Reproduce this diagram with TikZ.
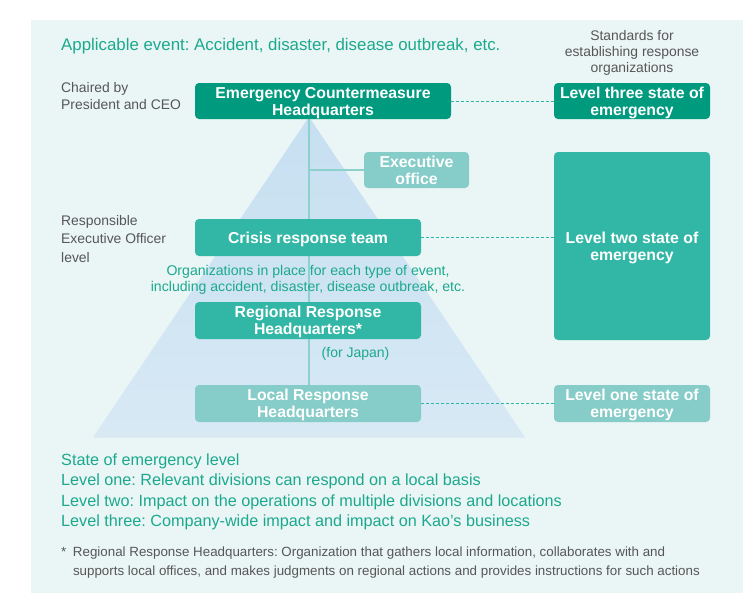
\documentclass[tikz,border=0pt]{standalone}
\usepackage{fontspec}
\setmainfont{Liberation Sans}
\usetikzlibrary{calc}
\definecolor{panelbg}{HTML}{EAF5F5}
\definecolor{darkgreen}{HTML}{009B7F}
\definecolor{teal}{HTML}{32B7A6}
\definecolor{lightteal}{HTML}{86CCC8}
\definecolor{tritop}{HTML}{C6DFF2}
\definecolor{tribot}{HTML}{D8E9F4}
\definecolor{greentext}{HTML}{1BA98E}
\definecolor{greytext}{HTML}{575757}
\definecolor{vline}{HTML}{8ED1CC}
\definecolor{dashcol}{HTML}{2DB5A5}
\pgfdeclarelayer{back}
\pgfdeclarelayer{lines}
\pgfsetlayers{back,lines,main}
\tikzset{
  box/.style={rectangle, rounded corners=4pt, text=white, align=center,
    font=\fontsize{15.8}{17}\selectfont\bfseries, inner sep=0pt, text depth=0pt},
  boxdark/.style={box, fill=darkgreen},
  boxmid/.style={box, fill=teal},
  boxlight/.style={box, fill=lightteal},
  greylabel/.style={text=greytext, font=\fontsize{13.9}{17}\selectfont, align=left, inner sep=0pt},
  conn/.style={draw=vline, line width=1.5pt},
  dashconn/.style={draw=dashcol, line width=1pt, dash pattern=on 3pt off 2pt},
}
\begin{document}
\frenchspacing
\begin{tikzpicture}[x=1pt, y=-1pt]
\useasboundingbox (0,0) rectangle (743,594);
\begin{pgfonlayer}{back}
  \fill[panelbg] (31,20) rectangle (743,593);
  \shade[top color=tritop, bottom color=tribot] (309,117) -- (525,437.5) -- (93,437.5) -- cycle;
\end{pgfonlayer}

% title and labels
\node[anchor=base west, text=greentext, font=\fontsize{16.85}{18}\selectfont, inner sep=0pt] (title) at (61,51) {Applicable event: Accident, disaster, disease outbreak, etc.};
\node[greylabel, anchor=north, align=center, font=\fontsize{13.9}{16}\selectfont] (std) at (632,30.5) {Standards for\\establishing response\\organizations};
\node[greylabel, anchor=north west] (chair) at (61,82.5) {Chaired by\\President and CEO};
\node[greylabel, anchor=north west, font=\fontsize{13.9}{18.5}\selectfont] (resp) at (61,215) {Responsible\\Executive Officer\\level};

% boxes
\node[boxdark, minimum width=256pt, minimum height=36pt] (ech) at (323,101) {Emergency Countermeasure\\Headquarters};
\node[boxdark, minimum width=156pt, minimum height=36pt] (l3) at (632,101) {Level three state of\\emergency};
\node[boxlight, minimum width=105pt, minimum height=36pt] (exec) at (416.5,170) {Executive\\office};
\node[boxmid, minimum width=156pt, minimum height=188pt] (l2) at (632,246) {Level two state of\\emergency};
\node[boxmid, minimum width=226pt, minimum height=37pt] (crt) at (308,237.5) {Crisis response team};
\node[boxmid, minimum width=226pt, minimum height=37pt] (rrh) at (308,320.5) {Regional Response\\Headquarters*};
\node[boxlight, minimum width=226pt, minimum height=37pt] (lrh) at (308,403.5) {Local Response\\Headquarters};
\node[boxlight, minimum width=156pt, minimum height=37pt] (l1) at (632,403.5) {Level one state of\\emergency};

\node[text=greentext, anchor=north, align=center, font=\fontsize{14.1}{16}\selectfont, inner sep=0pt] (orgs) at (308,265.5) {Organizations in place for each type of event,\\including accident, disaster, disease outbreak, etc.};
\node[text=greentext, anchor=west, font=\fontsize{14}{16}\selectfont, inner sep=0pt] (japan) at (321.5,354) {(for Japan)};

% connectors
\coordinate (ex) at (309,170);
\begin{pgfonlayer}{lines}
  \draw[conn] (ech.south -| ex) -- (lrh.north -| ex);
  \draw[conn] (ex) -- (exec.west);
\end{pgfonlayer}
\draw[dashconn] (ech.east) -- (l3.west);
\draw[dashconn] (crt.east) -- (crt.east -| l2.west);
\draw[dashconn] (lrh.east) -- (l1.west);

% legend
\node[anchor=north west, text=greentext, align=left, font=\fontsize{16.2}{20.5}\selectfont, inner sep=0pt] (legend) at (61,453.2) {State of emergency level\\Level one: Relevant divisions can respond on a local basis\\Level two: Impact on the operations of multiple divisions and locations\\Level three: Company-wide impact and impact on Kao’s business};
\node[anchor=north west, text=greytext, align=left, font=\fontsize{13.35}{19}\selectfont, inner sep=0pt] (note) at (61,546.7) {\makebox[11.8pt][l]{*}Regional Response Headquarters: Organization that gathers local information, collaborates with and\\\hspace*{11.8pt}supports local offices, and makes judgments on regional actions and provides instructions for such actions};
\end{tikzpicture}
\end{document}
